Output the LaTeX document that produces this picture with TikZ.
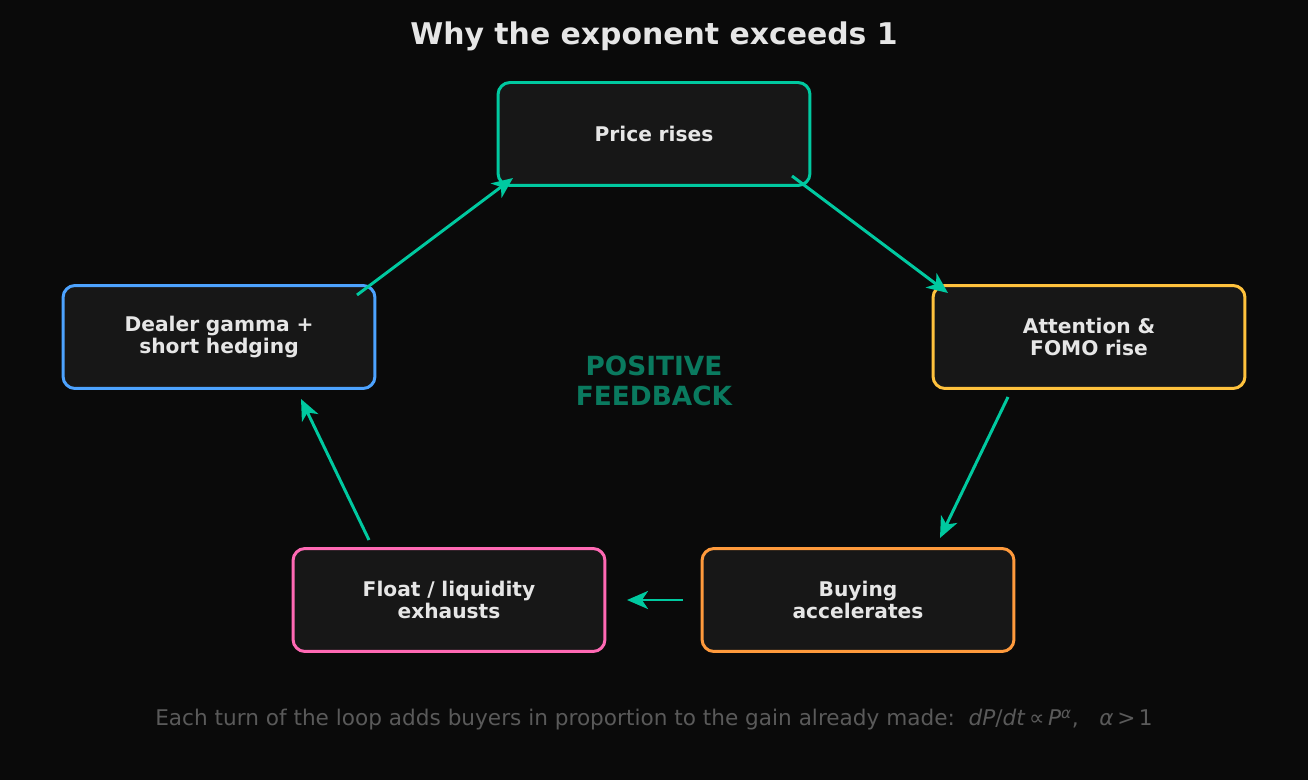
\documentclass[tikz,border=0pt]{standalone}
\usepackage{fontspec}
\setmainfont{DejaVu Sans}
\usepackage{xcolor}
\usetikzlibrary{positioning,arrows.meta}
\definecolor{bgdark}{HTML}{0A0A0A}
\definecolor{boxfill}{HTML}{171717}
\definecolor{loopteal}{HTML}{00C9A0}
\definecolor{darkteal}{HTML}{0A7A5F}
\definecolor{cblue}{HTML}{4DA3FF}
\definecolor{cyellow}{HTML}{FFC23D}
\definecolor{corange}{HTML}{FF9A3C}
\definecolor{cpink}{HTML}{FF69B4}
\definecolor{txtlight}{HTML}{E6E6E6}
\definecolor{txtgray}{HTML}{5A5A5A}

\begin{document}
\begin{tikzpicture}[x=0.02cm,y=-0.02cm,
box/.style={draw,rectangle,rounded corners=0.24cm,line width=1.7pt,fill=boxfill,
  minimum width=6.24cm,minimum height=2.06cm,text width=5.6cm,align=center,
  text=txtlight,font=\fontsize{11.5}{13}\selectfont\bfseries},
loop/.style={loopteal,line width=1.7pt,-{Stealth[length=0.42cm,width=0.36cm,inset=0.12cm]}}]
\fill[bgdark] (0,0) rectangle (1308,780);
\node (title) at (654,36) [text=txtlight,font=\fontsize{17}{20}\selectfont\bfseries] {Why the exponent exceeds 1};
\node (price) at (654,134) [box,draw=loopteal] {Price rises};
\node (attn) at (1089,337) [box,draw=cyellow] {Attention \&\\FOMO rise};
\node (buy) at (858,600) [box,draw=corange] {Buying\\accelerates};
\node (float) at (449,600) [box,draw=cpink] {Float / liquidity\\exhausts};
\node (dealer) at (219,337) [box,draw=cblue] {Dealer gamma +\\short hedging};
\node (centre) at (654,381) [align=center,text=darkteal,font=\fontsize{15}{17}\selectfont\bfseries] {POSITIVE\\FEEDBACK};
\node (note) at (654,720) [text=txtgray,font=\fontsize{12.3}{14}\selectfont]
  {Each turn of the loop adds buyers in proportion to the gain already made:\ \ \textit{dP}/\textit{dt}\,∝\,\textit{P}\textsuperscript{\textit{α}},\ \ \ \textit{α}\,>\,1};
% loop ends
\coordinate (a1) at (792,176); \coordinate (b1) at (948,293);
\coordinate (a2) at (1008,397); \coordinate (b2) at (940,538);
\coordinate (a3) at (683,600); \coordinate (b3) at (627,600);
\coordinate (a4) at (369,540); \coordinate (b4) at (301,399);
\coordinate (a5) at (357,295); \coordinate (b5) at (513,178);
\foreach \s/\e in {a1/b1,a2/b2,a3/b3,a4/b4,a5/b5}
  \draw[loop] (\s) -- (\e);
\end{tikzpicture}
\end{document}
